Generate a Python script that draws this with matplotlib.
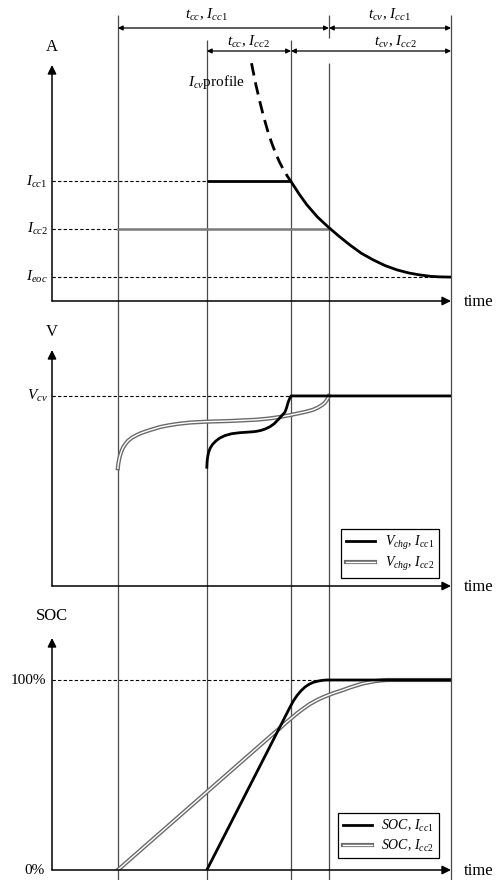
import matplotlib
matplotlib.use("Agg")
import matplotlib.pyplot as plt
import matplotlib.patheffects as pe

plt.rcParams["font.family"] = "Liberation Serif"
plt.rcParams["mathtext.fontset"] = "custom"
plt.rcParams["mathtext.rm"] = "Liberation Serif"
plt.rcParams["mathtext.it"] = "Liberation Serif:italic"
plt.rcParams["mathtext.bf"] = "Liberation Serif:bold"

# ---- time markers (arbitrary units) ----
t_start_cc2 = 1.65
t_start_cc1 = 3.88
t_cv1 = 5.99
t_cv2 = 6.94
t_end = 10.0

# ---- current levels ----
I_cc1 = 5.0
I_cc2 = 3.0
I_eoc = 1.0

# CV-phase current decay (shared by both charge currents)
cv_t = [5.99, 6.20, 6.39, 6.65, 6.92, 7.20, 7.47, 7.75, 8.05, 8.35, 8.65, 8.95, 9.22, 9.50, 9.72, 10.0]
cv_I = [5.00, 4.46, 4.02, 3.52, 3.10, 2.70, 2.34, 2.00, 1.72, 1.48, 1.30, 1.17, 1.09, 1.03, 1.01, 1.00]

# extrapolated I_cv profile before t_cv1 (dashed)
ext_t = [5.00, 5.10, 5.20, 5.30, 5.40, 5.50, 5.60, 5.70, 5.80, 5.90, 5.99]
ext_I = [9.95, 9.12, 8.40, 7.74, 7.15, 6.64, 6.20, 5.82, 5.50, 5.22, 5.00]

# ---- charge voltage ----
V_cv = 4.2
v1_t = [3.88, 3.885, 3.895, 3.92, 3.96, 4.02, 4.10, 4.20, 4.33, 4.50, 4.70, 4.90, 5.05,
        5.15, 5.25, 5.34, 5.46, 5.57, 5.66, 5.75, 5.84, 5.88, 5.92, 5.96, 5.99, 10.0]
v1_V = [3.562, 3.600, 3.640, 3.690, 3.730, 3.765, 3.795, 3.822, 3.845, 3.862, 3.871, 3.876, 3.880,
        3.885, 3.893, 3.904, 3.924, 3.952, 3.985, 4.020, 4.056, 4.095, 4.145, 4.180, 4.200, 4.200]

v2_t = [1.65, 1.66, 1.68, 1.70, 1.74, 1.78, 1.84, 1.90, 2.00, 2.13, 2.25, 2.38, 2.55, 2.71,
        2.92, 3.13, 3.46, 3.88, 4.46, 5.04, 5.21, 5.46, 5.71, 5.96, 6.21, 6.38, 6.54, 6.66,
        6.77, 6.84, 6.89, 6.92, 6.94]
v2_V = [3.553, 3.590, 3.627, 3.660, 3.705, 3.738, 3.770, 3.797, 3.826, 3.851, 3.870, 3.886,
        3.905, 3.922, 3.937, 3.949, 3.962, 3.970, 3.976, 3.986, 3.990, 3.999, 4.012, 4.028,
        4.047, 4.060, 4.076, 4.095, 4.119, 4.140, 4.164, 4.185, 4.200]

# ---- state of charge (%) ----
soc1_t = [3.88, 5.96, 6.05, 6.14, 6.24, 6.34, 6.44, 6.54, 6.66, 6.77, 6.89, 10.0]
soc1 = [0.0, 85.5, 89.0, 91.8, 94.3, 96.3, 97.7, 98.7, 99.4, 99.8, 100.0, 100.0]

soc2_t = [1.65, 5.60, 5.71, 5.86, 6.02, 6.15, 6.29, 6.46, 6.64, 6.78, 6.92, 7.10, 7.29,
          7.46, 7.64, 7.80, 7.97, 8.10, 8.22, 8.40, 10.0]
soc2 = [0.0, 72.7, 74.6, 77.5, 80.3, 82.6, 84.8, 87.3, 89.4, 90.8, 92.0, 93.4, 94.7,
        96.0, 97.2, 98.2, 98.9, 99.4, 99.7, 100.0, 100.0]

# ---- figure geometry (pixels) ----
W, H = 501, 880
x0_px, x1_px = 52, 451
fig = plt.figure(figsize=(W / 100, H / 100), dpi=100)
fig.patch.set_facecolor("white")

px_per_t = (x1_px - x0_px) / t_end


def panel(bottom_px, top_px):
    ax = fig.add_axes([x0_px / W, 1 - bottom_px / H, (x1_px - x0_px) / W,
                       (bottom_px - top_px) / H], zorder=2)
    ax.patch.set_visible(False)
    ax.set_xlim(0, t_end)
    ax.axis("off")
    return ax


# overlay for the guide lines spanning all panels
bg = fig.add_axes([0, 0, 1, 1], zorder=1)
bg.patch.set_visible(False)
bg.set_xlim(-x0_px / px_per_t, (W - x0_px) / px_per_t)
bg.set_ylim(H, 0)
bg.axis("off")

vcol = "#4a4a4a"
vlw = 0.9
for t, y_top, y_bot in [(t_start_cc2, 15, H), (t_start_cc1, 40, H), (t_cv1, 40, H),
                        (t_cv2, 15, 38), (t_cv2, 63, H), (t_end, 15, H)]:
    bg.plot([t, t], [y_top, y_bot], color=vcol, lw=vlw, solid_capstyle="butt")

arrow_kw = dict(arrowstyle="<|-|>", color="black", lw=0.9, mutation_scale=7,
                shrinkA=0, shrinkB=0)
for ta, tb, y in [(t_start_cc2, t_cv2, 28), (t_cv2, t_end, 28),
                  (t_start_cc1, t_cv1, 51), (t_cv1, t_end, 51)]:
    bg.annotate("", xy=(tb, y), xytext=(ta, y), arrowprops=arrow_kw)

lab_fs = 11
bg.text(t_start_cc1, 15, r"$t_{cc}$, $I_{cc1}$", ha="center", va="center", fontsize=lab_fs)
bg.text((t_cv2 + t_end) / 2, 15, r"$t_{cv}$, $I_{cc1}$", ha="center", va="center", fontsize=lab_fs)
bg.text((t_start_cc1 + t_cv1) / 2, 42, r"$t_{cc}$, $I_{cc2}$", ha="center", va="center", fontsize=lab_fs)
bg.text((t_cv2 + t_end) / 2 + 0.15, 42, r"$t_{cv}$, $I_{cc2}$", ha="center", va="center", fontsize=lab_fs)

ax_kw = dict(arrowstyle="-|>", color="black", lw=1.1, mutation_scale=13,
             shrinkA=0, shrinkB=0)


def draw_axes(ax, ylabel, ylabel_off):
    ax.annotate("", xy=(0, 1), xytext=(0, 0), xycoords="axes fraction", arrowprops=ax_kw)
    ax.annotate("", xy=(1, 0), xytext=(0, 0), xycoords="axes fraction", arrowprops=ax_kw)
    ax.annotate(ylabel, xy=(0, 1), xycoords="axes fraction", xytext=(0, ylabel_off),
                textcoords="offset points", ha="center", va="center", fontsize=12)
    ax.annotate("time", xy=(1, 0), xycoords="axes fraction", xytext=(9, -1),
                textcoords="offset points", ha="left", va="center", fontsize=12)


def level_label(ax, y, text, off=-3):
    ax.annotate(text, xy=(0, y), xycoords=("axes fraction", "data"), xytext=(off, 0),
                textcoords="offset points", ha="right", va="center", fontsize=11)


dash_kw = dict(color="black", lw=0.8, dashes=(3, 2))
thick = 2.0
double = [pe.Stroke(linewidth=3.0, foreground="#6a6a6a"), pe.Normal()]

# ---- current panel ----
axI = panel(301, 65)
axI.set_ylim(0, (301 - 65) / 23.9)
draw_axes(axI, "A", 13)
axI.plot([0, t_start_cc1], [I_cc1, I_cc1], **dash_kw)
axI.plot([0, t_start_cc2], [I_cc2, I_cc2], **dash_kw)
axI.plot([0, t_end], [I_eoc, I_eoc], **dash_kw)
axI.plot([t_start_cc2, t_cv2], [I_cc2, I_cc2], color="#7a7a7a", lw=1.8)
axI.plot([t_start_cc1, t_cv1], [I_cc1, I_cc1], color="black", lw=thick, solid_capstyle="butt")
axI.plot(cv_t, cv_I, color="black", lw=thick)
axI.plot(ext_t, ext_I, color="black", lw=thick, dashes=(4.5, 2.5), clip_on=False)
axI.text(4.84, 9.16, r"$I_{cv}$profile", ha="right", va="center", fontsize=11)
level_label(axI, I_cc1, r"$I_{cc1}$")
level_label(axI, I_cc2, r"$I_{cc2}$")
level_label(axI, I_eoc, r"$I_{eoc}$")

# ---- voltage panel ----
V_px = 111.8
axV = panel(586, 350)
axV.set_ylim(2.5, 2.5 + (586 - 350) / V_px)
draw_axes(axV, "V", 13)
axV.plot([0, t_cv1], [V_cv, V_cv], **dash_kw)
lv2, = axV.plot(v2_t, v2_V, color="white", lw=1.0, path_effects=double,
                label=r"$V_{chg}$, $I_{cc2}$")
lv1, = axV.plot(v1_t, v1_V, color="black", lw=thick, label=r"$V_{chg}$, $I_{cc1}$")
level_label(axV, V_cv, r"$V_{cv}$")
fig.legend(handles=[lv1, lv2], loc="upper right",
           bbox_to_anchor=(439 / W, 1 - 529 / H), bbox_transform=fig.transFigure,
           fontsize=10, frameon=True, fancybox=False, framealpha=1, edgecolor="black",
           handlelength=2.1, handletextpad=0.7, borderpad=0.35, labelspacing=0.25,
           borderaxespad=0).get_frame().set_linewidth(0.9)

# ---- SOC panel ----
S_px = 190 / 100
axS = panel(870, 638)
axS.set_ylim(0, (870 - 638) / S_px)
draw_axes(axS, "SOC", 16)
axS.plot([0, t_end], [100, 100], **dash_kw)
ls2, = axS.plot(soc2_t, soc2, color="white", lw=1.0, path_effects=double,
                label=r"$SOC$, $I_{cc2}$")
ls1, = axS.plot(soc1_t, soc1, color="black", lw=thick, label=r"$SOC$, $I_{cc1}$")
level_label(axS, 100, "100%", off=-4)
level_label(axS, 0, "0%", off=-5)
fig.legend(handles=[ls1, ls2], loc="upper right",
           bbox_to_anchor=(439 / W, 1 - 813 / H), bbox_transform=fig.transFigure,
           fontsize=10, frameon=True, fancybox=False, framealpha=1, edgecolor="black",
           handlelength=2.1, handletextpad=0.7, borderpad=0.35, labelspacing=0.25,
           borderaxespad=0).get_frame().set_linewidth(0.9)

fig.savefig("out.png", dpi=100, facecolor="white")
